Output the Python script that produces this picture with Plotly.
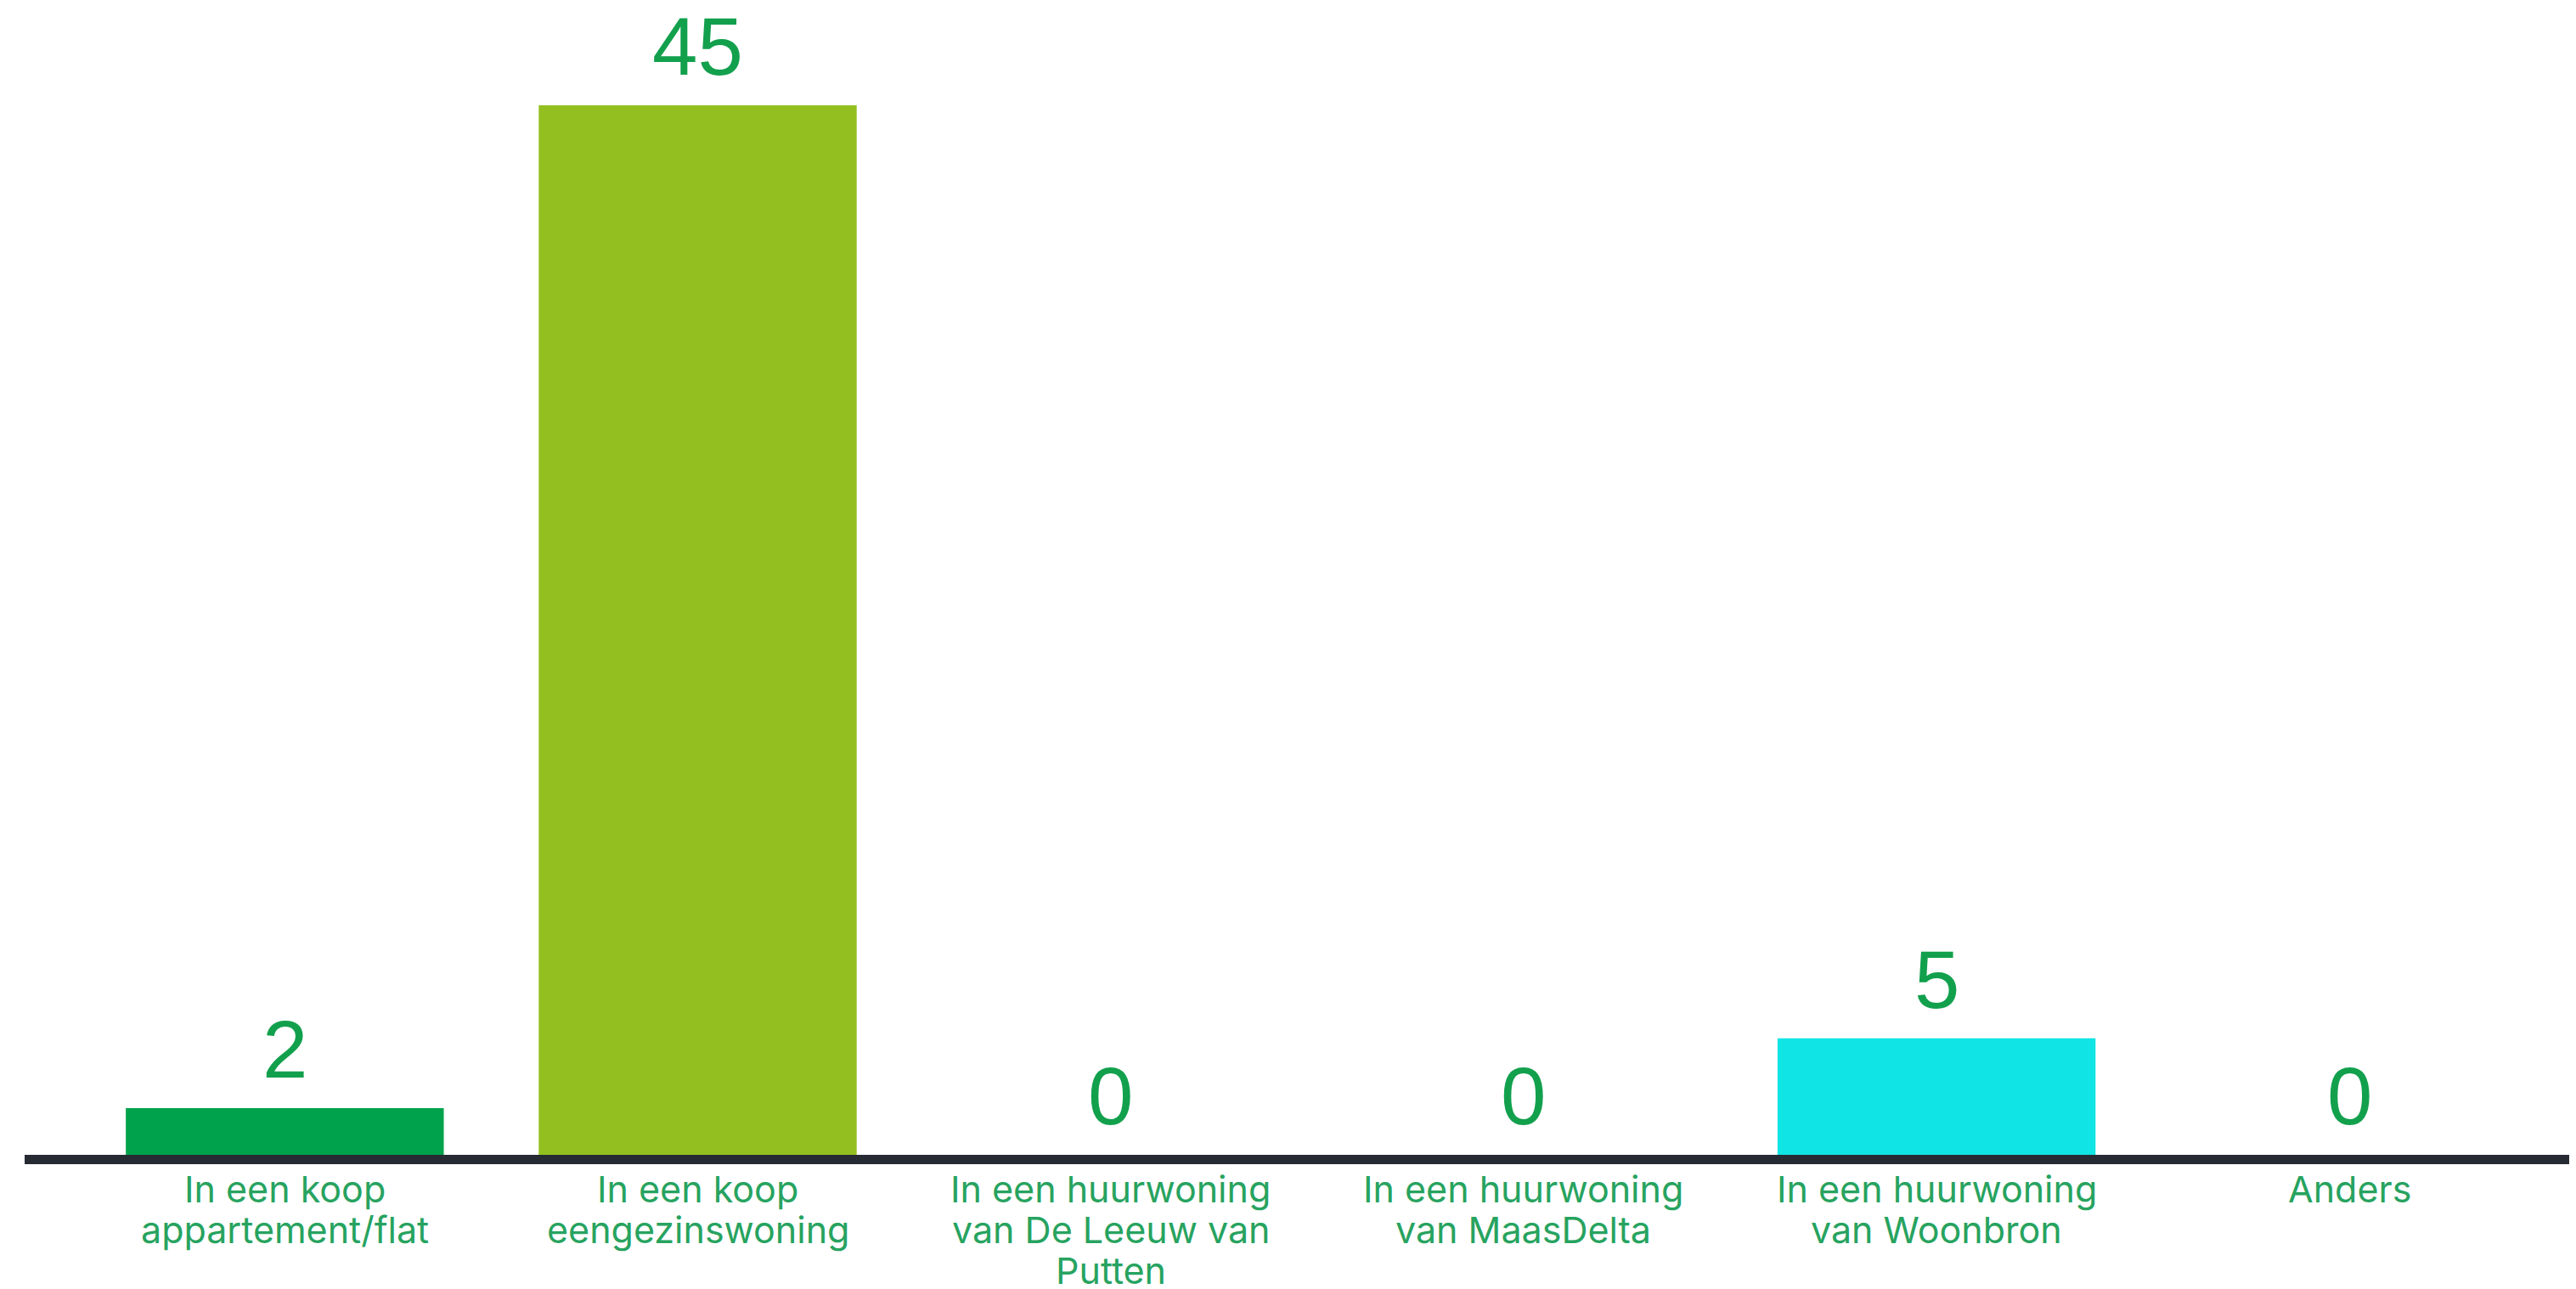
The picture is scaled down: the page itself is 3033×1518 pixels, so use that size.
import plotly.graph_objects as go

# categorieën en aantallen
categorieen = ["koop_appartement", "koop_eengezins", "huur_deleeuw", "huur_maasdelta", "huur_woonbron", "anders"]
labels = [
    "In een koop<br>appartement/flat",
    "In een koop<br>eengezinswoning",
    "In een huurwoning<br>van De Leeuw van<br>Putten",
    "In een huurwoning<br>van MaasDelta",
    "In een huurwoning<br>van Woonbron",
    "Anders",
]
aantallen = [2, 45, 0, 0, 5, 0]
kleuren = ["#00a34b", "#93c020", "#1b7a5a", "#5fcf9a", "#10e4e4", "#b5b5b5"]

fig = go.Figure()

fig.add_trace(go.Bar(
    x=categorieen,
    y=aantallen,
    marker=dict(color=kleuren, line=dict(width=0)),
    width=0.77,
    hoverinfo="y",
))

# waarden boven de staven
for cat, n in zip(categorieen, aantallen):
    fig.add_annotation(
        x=cat, y=n, text=str(n),
        showarrow=False, yanchor="bottom", yshift=14,
        font=dict(family="Liberation Sans, Arial, sans-serif", size=96, color="#12a04d"),
    )

# categorielabels onder de as, regel voor regel (krappe regelafstand)
for cat, lab in zip(categorieen, labels):
    for i, regel in enumerate(lab.split("<br>")):
        fig.add_annotation(
            x=cat, y=0, text=regel,
            showarrow=False, yanchor="top", yshift=-12 - 48 * i,
            font=dict(family="Inter, Liberation Sans, sans-serif", size=43, color="#27a35f"),
        )

# de pagina heeft 8px body-marge, daarom t/b iets verschoven
fig.update_layout(
    width=3033,
    height=1518,
    margin=dict(l=21, r=0, t=12, b=166),
    paper_bgcolor="white",
    plot_bgcolor="white",
    showlegend=False,
    xaxis=dict(
        range=[-0.63, 5.565],
        showline=True,
        linecolor="#262b33",
        linewidth=11,
        showgrid=False,
        zeroline=False,
        ticks="",
        showticklabels=False,
    ),
    yaxis=dict(
        range=[0, 48.79],
        visible=False,
        showgrid=False,
        zeroline=False,
    ),
)

fig.write_html("out.html")
